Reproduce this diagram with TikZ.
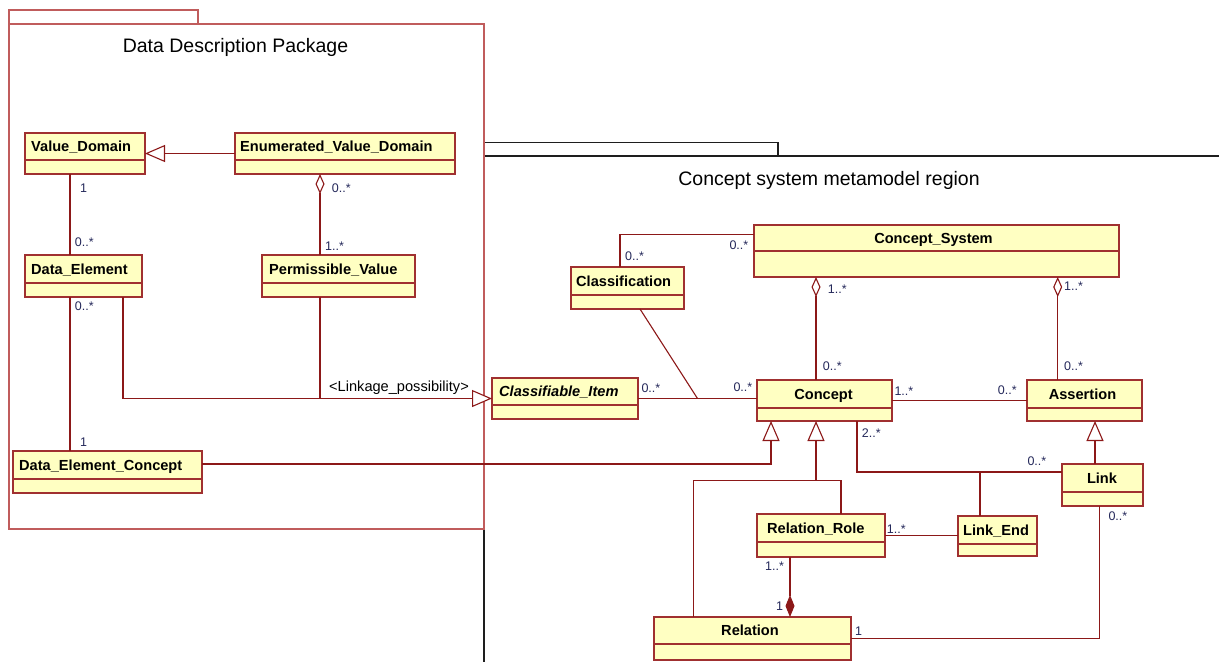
\documentclass[tikz,border=0pt]{standalone}
\usepackage{fontspec}
\setmainfont{Liberation Sans}
\usetikzlibrary{arrows.meta,calc}

\definecolor{clsfill}{RGB}{255,255,194}
\definecolor{clsdraw}{RGB}{160,48,48}
\definecolor{wire}{RGB}{140,24,24}
\definecolor{pkgred}{RGB}{192,92,92}
\definecolor{pkgdark}{RGB}{30,30,30}
\definecolor{multc}{RGB}{36,40,90}

\tikzset{
  classbox/.style={draw=clsdraw, fill=clsfill, line width=1.3pt, inner sep=0pt, outer sep=0pt},
  classrule/.style={draw=clsdraw, line width=1.3pt},
  classname/.style={inner sep=0pt, font=\fontsize{14.6}{17}\selectfont\bfseries},
  wireline/.style={draw=wire, line width=1.1pt},
  genline/.style={wireline, -{Triangle[open, fill=white, length=20pt, width=17pt]}},
  aggline/.style={wireline, {Diamond[open, fill=white, length=20pt, width=9pt]}-},
  compline/.style={wireline, {Diamond[length=22pt, width=9pt]}-},
  mult/.style={inner sep=0pt, anchor=base west, text=multc, font=\fontsize{12.5}{14}\selectfont},
  pkgtitle/.style={inner sep=0pt, anchor=base, font=\fontsize{19.5}{23}\selectfont},
  pkgbox/.style={draw=pkgred, line width=1.2pt, inner sep=0pt, outer sep=0pt, anchor=north west},
}

% UML class: id, x1, y1, x2, y2, divider y, name anchor, name x, name
\newcommand\umlclass[9]{%
  \pgfmathsetmacro\clsw{#4-#2}%
  \pgfmathsetmacro\clsh{#5-#3}%
  \node[classbox, minimum width=\clsw pt, minimum height=\clsh pt, anchor=north west] (#1) at (#2,#3) {};
  \draw[classrule] (#2,#6) -- (#4,#6);
  \node[classname, anchor=#7] (#1-name) at (#8,{(#3+#6)/2+5}) {#9};
}

\begin{document}
\begin{tikzpicture}[x=1pt, y=-1pt]
\useasboundingbox (0,0) rectangle (1219,662);

% Concept system package (runs off the right and bottom)
\coordinate (cspkg) at (484,156);
\draw[pkgdark, line width=1.2pt] (cspkg) |- (778,142.7) -- (778,156);
\draw[pkgdark, line width=1.2pt] (1219,156) -- (cspkg) -- (484,662);
\node[pkgtitle] (cstitle) at (829,185.7) {Concept system metamodel region};

% Data description package
\node[pkgbox, minimum width=189pt, minimum height=14pt] (ddptab) at (9,10) {};
\node[pkgbox, minimum width=475pt, minimum height=505pt] (ddp) at (9,24) {};
\node[pkgtitle] (ddptitle) at (235.5,52) {Data Description Package};

% Classes
\umlclass{vd}{25}{133}{145}{174}{160}{base west}{31}{Value\_Domain}
\umlclass{evd}{235}{133}{455}{174}{160}{base west}{240}{Enumerated\_Value\_Domain}
\umlclass{de}{25}{255}{142}{297}{283}{base west}{31}{Data\_Element}
\umlclass{pv}{262}{255}{415}{297}{283}{base west}{269}{Permissible\_Value}
\umlclass{dec}{13}{451}{202}{493}{479}{base west}{19}{Data\_Element\_Concept}
\umlclass{ci}{492}{378}{638}{419}{405}{base west}{499}{\itshape Classifiable\_Item}
\umlclass{concept}{757}{380}{892}{421}{408}{base}{823.5}{Concept}
\umlclass{assertion}{1027}{380}{1142}{421}{408}{base}{1082.5}{Assertion}
\umlclass{cs}{754}{225}{1119}{277}{251}{base}{933.5}{Concept\_System}
\umlclass{classif}{571}{267}{684}{309}{295}{base west}{576}{Classification}
\umlclass{link}{1062}{464}{1143}{506}{492}{base}{1102}{Link}
\umlclass{le}{958}{516}{1037}{556}{544}{base west}{963}{Link\_End}
\umlclass{rr}{757}{514}{885}{557}{542}{base west}{767}{Relation\_Role}
\umlclass{rel}{654}{617}{851}{660}{644}{base}{750}{Relation}

% Data description connectors
\draw[genline] (evd.west) -- (vd.east);
\draw[wireline] ([xshift=45pt]vd.south west) -- ([xshift=45pt]de.north west);
\draw[aggline] ([xshift=85pt]evd.south west) -- ([xshift=58pt]pv.north west);
\draw[wireline] ([xshift=45pt]de.south west) -- ([xshift=57pt]dec.north west);
\draw[genline] ([xshift=98pt]de.south west) |- (ci.west);
\coordinate (pvfoot) at ([xshift=58pt]pv.south west);
\draw[wireline] (pvfoot) -- (pvfoot |- ci.west);
\node[inner sep=0pt, anchor=base west, font=\fontsize{14.6}{17}\selectfont] (linkage) at (329,391.7) {<Linkage\_possibility>};
\draw[genline] ([yshift=8pt]dec.east) -| ([xshift=14pt]concept.south west);

% Concept system connectors
\draw[wireline] (ci.east) -- (ci.east -| concept.west);
\coordinate (cimid) at ($(ci.east)!0.5!(ci.east -| concept.west)$);
\draw[wireline] ([xshift=69pt]classif.south west) -- (cimid);
\draw[wireline] ([xshift=49pt]classif.north west) |- ([yshift=16.5pt]cs.west);
\draw[aggline] ([xshift=62pt]cs.south west) -- ([xshift=59pt]concept.north west);
\draw[aggline] ([xshift=303.7pt]cs.south west) -- ([xshift=30.7pt]assertion.north west);
\draw[wireline] (concept.east) -- (assertion.west);
\coordinate (linkin) at ([yshift=13pt]link.west);
\draw[wireline] ([xshift=100pt]concept.south west) |- (linkin);
\coordinate (letop) at ([xshift=22pt]le.north west);
\draw[wireline] (letop) -- (letop |- linkin);
\draw[genline] ([xshift=33pt]link.north west) -- ([xshift=68pt]assertion.south west);
\coordinate (genfoot) at ([xshift=59pt]concept.south west);
\coordinate (relfork) at ([yshift=-59.3pt]genfoot);
\draw[genline] (relfork) -- (genfoot);
\draw[wireline] ([xshift=39.3pt]rel.north west) |- (relfork);
\draw[wireline] ([xshift=84pt]rr.north west) |- (relfork);
\draw[wireline] (rr.east) -- (rr.east -| le.west);
\draw[compline] ([xshift=136pt]rel.north west) -- ([xshift=33pt]rr.south west);
\draw[wireline] (rel.east) -| ([xshift=37.3pt]link.south west);

% Multiplicities
\node[mult] (m1) at (80,192) {1};
\node[mult] (m2) at (331.7,192) {0..*};
\node[mult] (m3) at (74.7,246.7) {0..*};
\node[mult] (m4) at (325,250.7) {1..*};
\node[mult] (m5) at (74.7,310) {0..*};
\node[mult] (m6) at (80,446) {1};
\node[mult] (m7) at (729.3,249) {0..*};
\node[mult] (m8) at (625,260.7) {0..*};
\node[mult] (m9) at (827.7,293.3) {1..*};
\node[mult] (m10) at (1064,290) {1..*};
\node[mult] (m11) at (822.7,370.7) {0..*};
\node[mult] (m12) at (641.3,392.7) {0..*};
\node[mult] (m13) at (733.3,391.7) {0..*};
\node[mult] (m14) at (861.7,437.3) {2..*};
\node[mult] (m15) at (1064,370) {0..*};
\node[mult] (m16) at (894.3,395.7) {1..*};
\node[mult] (m17) at (997.7,394.7) {0..*};
\node[mult] (m18) at (1027.3,465) {0..*};
\node[mult] (m19) at (1108.3,520) {0..*};
\node[mult] (m20) at (886.7,533.3) {1..*};
\node[mult] (m21) at (765,570) {1..*};
\node[mult] (m22) at (776,610.7) {1};
\node[mult] (m23) at (855,635) {1};
\end{tikzpicture}
\end{document}
